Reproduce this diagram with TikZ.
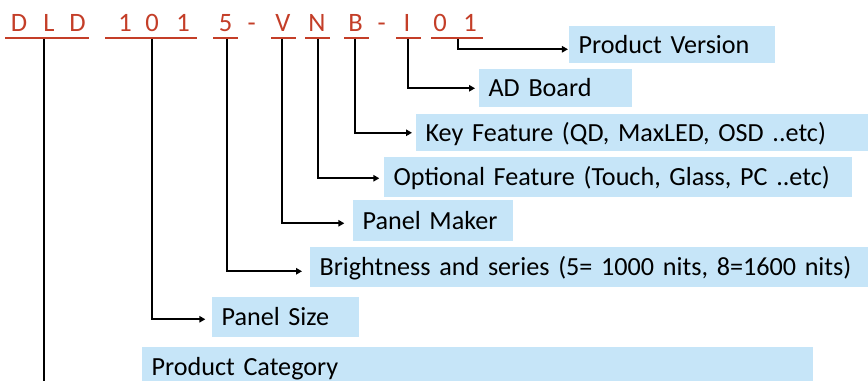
\documentclass[tikz,border=0pt]{standalone}
\usepackage{fontspec}
\setmainfont{Carlito}
\usetikzlibrary{arrows.meta,calc}
\definecolor{boxblue}{RGB}{198,229,248}
\definecolor{codered}{RGB}{196,62,40}
\newcommand\mkbox[6]{%
  \pgfmathsetmacro\mybw{(#4-#2)*0.75-14}%
  \pgfmathsetmacro\mybh{(#5-#3)*0.75}%
  \node[lbl, minimum height=\mybh pt, text width=\mybw pt] (#1) at (#2,#3) {#6};}
\begin{document}
\begin{tikzpicture}[x=0.75pt,y=-0.75pt,
  lbl/.style={fill=boxblue, anchor=north west, inner xsep=7pt, inner ysep=0pt,
    align=left, font=\fontsize{19.6}{24}\selectfont, text height=12.6pt, text depth=0pt},
  code/.style={text=codered, font=\fontsize{19.9}{24}\selectfont, anchor=base, inner sep=0pt},
  uline/.style={draw=codered, line width=1.5pt},
  conn/.style={line width=1.45pt, -{Triangle[length=4.5pt,width=4.8pt]}},
  plainconn/.style={line width=1.2pt}
]
\clip (0,0) rectangle (868,380);
\fill[white] (0,0) rectangle (868,380);

% code letters
\node[code] (cD1) at (19,31) {D};
\node[code] (cL)  at (49,31) {L};
\node[code] (cD2) at (77.5,31) {D};
\node[code] (c11) at (125,31) {1};
\node[code] (c10) at (152,31) {0};
\node[code] (c12) at (183,31) {1};
\node[code] (c5)  at (225.7,31) {5};
\node[code] (ch1) at (251.7,31) {-};
\node[code] (cV)  at (283,31) {V};
\node[code] (cN)  at (317,31) {N};
\node[code] (cB)  at (355.7,31) {B};
\node[code] (ch2) at (381.7,31) {-};
\node[code] (cI)  at (407,31) {I};
\node[code] (c20) at (440,31) {0};
\node[code] (c21) at (470,31) {1};

% underlines
\draw[uline] (5,37.7) -- (89,37.7);
\draw[uline] (105,37.7) -- (197,37.7);
\draw[uline] (213,37.7) -- (238,37.7);
\draw[uline] (271,37.7) -- (296,37.7);
\draw[uline] (305,37.7) -- (330,37.7);
\draw[uline] (344,37.7) -- (369,37.7);
\draw[uline] (396,37.7) -- (421,37.7);
\draw[uline] (431,37.7) -- (483,37.7);

\coordinate (uDLD) at (44,38.5);
\coordinate (u101) at (152,38.5);
\coordinate (u5)   at (227,38.5);
\coordinate (uV)   at (282,38.5);
\coordinate (uN)   at (318,38.5);
\coordinate (uB)   at (355,38.5);
\coordinate (uI)   at (408,38.5);
\coordinate (u01)  at (458,38.5);
\coordinate (endDLD) at (44,385);

% boxes
\mkbox{pv}{569}{26}{775}{63}{Product Version}
\mkbox{ad}{479}{69}{632}{107}{AD Board}
\mkbox{kf}{416}{114}{875}{151}{Key Feature (QD, MaxLED, OSD ..etc)}
\mkbox{of}{384}{157}{852}{197}{Optional Feature (Touch, Glass, PC ..etc)}
\mkbox{pm}{353}{200}{513}{241}{Panel Maker}
\mkbox{br}{310}{247}{875}{287}{Brightness and series (5= 1000 nits, 8=1600 nits)}
\mkbox{ps}{212}{297}{359}{337}{Panel Size}
\mkbox{pc}{142}{347}{813}{387}{Product Category}

% connectors
\draw[conn, shorten >=0.8pt] (u01) |- ($(pv.west)+(0,4.5)$);
\draw[conn, shorten >=3pt] (uI) |- (ad.west);
\draw[conn, shorten >=3pt] (uB) |- (kf.west);
\draw[conn, shorten >=3.5pt] (uN) |- ($(of.west)+(0,1)$);
\draw[conn, shorten >=6.5pt] (uV) |- ($(pm.west)+(0,2.5)$);
\draw[conn, shorten >=6pt] (u5) |- ($(br.west)+(0,4)$);
\draw[conn, shorten >=5pt] (u101) |- ($(ps.west)+(0,2)$);
\draw[plainconn] (uDLD) -- (endDLD);
\end{tikzpicture}
\end{document}
